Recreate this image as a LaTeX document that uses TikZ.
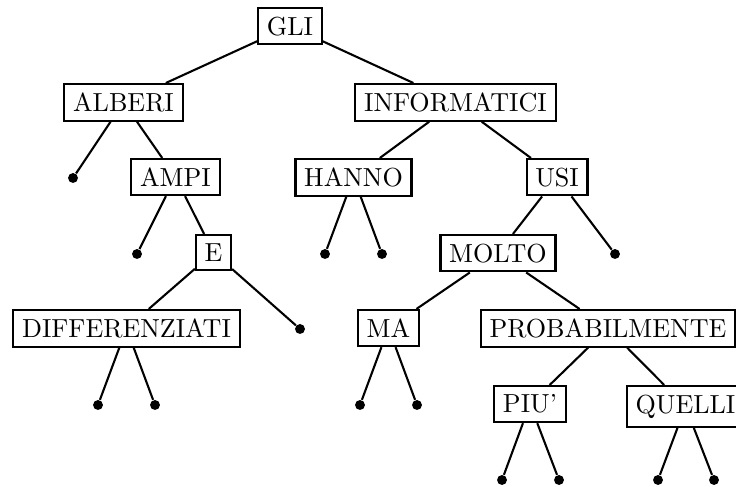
\documentclass[tikz,border=0pt]{standalone}
\begin{document}
\begin{tikzpicture}[x=0.3831pt, y=-0.3831pt,
  word/.style={draw, line width=0.8pt, anchor=north, fill=white},
  leaf/.style={circle, fill, inner sep=0pt, minimum size=3.8pt},
  edge/.style={line width=0.8pt}]
\clip (0,0) rectangle (736,487);
% words of the tree
\node[word] (gli)   at (290,7)   {GLI};
\node[word] (alb)   at (123.5,83) {ALBERI};
\node[word] (inf)   at (455.5,83) {INFORMATICI};
\node[word] (ampi)  at (175.5,158) {AMPI};
\node[word] (hanno) at (353.5,158) {HANNO};
\node[word] (usi)   at (557,158) {USI};
\node[word] (e)     at (213.5,234) {E};
\node[word] (molto) at (498,234) {MOLTO};
\node[word] (diff)  at (126.5,309) {DIFFERENZIATI};
\node[word] (ma)    at (388.5,309) {MA};
\node[word] (prob)  at (608,309) {PROBABILMENTE};
\node[word] (piu)   at (530,385) {PIU'};
\node[word] (quel)  at (685.5,385) {QUELLI};
% empty leaves
\node[leaf] (l1)  at (73,178) {};
\node[leaf] (l2)  at (137,254) {};
\node[leaf] (l3)  at (325,254) {};
\node[leaf] (l4)  at (382,254) {};
\node[leaf] (l5)  at (615,254) {};
\node[leaf] (l6)  at (300,329) {};
\node[leaf] (l7)  at (98,405) {};
\node[leaf] (l8)  at (155,405) {};
\node[leaf] (l9)  at (360,405) {};
\node[leaf] (l10) at (417,405) {};
\node[leaf] (l11) at (502,480) {};
\node[leaf] (l12) at (559,480) {};
\node[leaf] (l13) at (658,480) {};
\node[leaf] (l14) at (714,480) {};
% branches
\begin{scope}[edge]
\draw (gli) -- (alb);
\draw (gli) -- (inf);
\draw (alb) -- (l1);
\draw (alb) -- (ampi);
\draw (ampi) -- (l2);
\draw (ampi) -- (e);
\draw (e) -- (diff);
\draw (e) -- (l6);
\draw (diff) -- (l7);
\draw (diff) -- (l8);
\draw (inf) -- (hanno);
\draw (inf) -- (usi);
\draw (hanno) -- (l3);
\draw (hanno) -- (l4);
\draw (usi) -- (molto);
\draw (usi) -- (l5);
\draw (molto) -- (ma);
\draw (molto) -- (prob);
\draw (ma) -- (l9);
\draw (ma) -- (l10);
\draw (prob) -- (piu);
\draw (prob) -- (quel);
\draw (piu) -- (l11);
\draw (piu) -- (l12);
\draw (quel) -- (l13);
\draw (quel) -- (l14);
\end{scope}
\end{tikzpicture}
\end{document}
